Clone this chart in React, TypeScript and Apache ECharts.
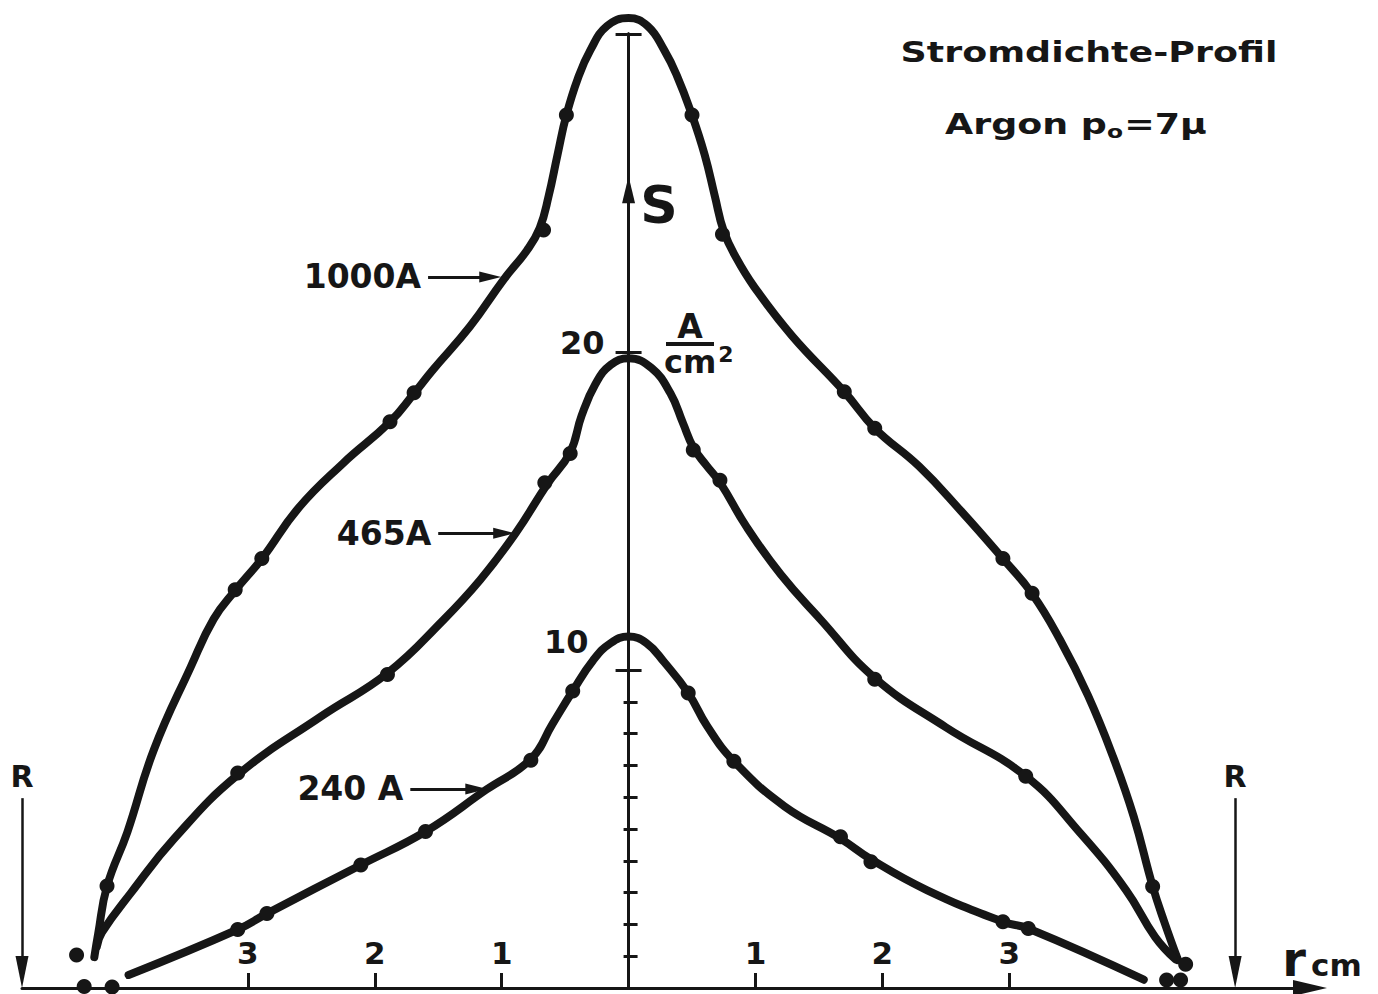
import { useEffect, useRef } from 'react';
import * as echarts from 'echarts';

const INK = '#161616';
const FONT = '"DejaVu Sans", "Liberation Sans", sans-serif';

// r in cm, S in A/cm^2
const R_WALL = 4.78;
const X_MIN = -4.78;
const X_MAX = 5.37;
const Y_MAX = 30;
const X_TICKS = [-3, -2, -1, 1, 2, 3];
const Y_MAJOR_TICKS = [10, 20, 30];
const Y_MINOR_TICKS = [1, 2, 3, 4, 5, 6, 7, 8, 9];
const Y_LABELS = [10, 20];
const Y_ARROW_S = 25.1;

const SERIES_NAMES = ['1000A', '465A', '240 A'];

// traced curves (r, S)
const CURVE_1000 = [
  [-4.21, 0.97], [-4.18, 1.7], [-4.11, 3.2], [-3.95, 4.9], [-3.74, 7.5], [-3.45, 10.1],
  [-3.27, 11.6], [-3.1, 12.5], [-2.89, 13.5], [-2.6, 15.1], [-2.25, 16.5], [-1.88, 17.8],
  [-1.69, 18.7], [-1.55, 19.4], [-1.25, 20.8], [-0.98, 22.3], [-0.8, 23.2], [-0.7, 23.9],
  [-0.63, 24.9], [-0.56, 26.2], [-0.49, 27.45], [-0.4, 28.6], [-0.3, 29.5], [-0.17, 30.25],
  [0, 30.5], [0.15, 30.25], [0.28, 29.5], [0.38, 28.7], [0.5, 27.45], [0.6, 26.2],
  [0.68, 24.9], [0.75, 23.8], [0.85, 22.95], [0.99, 22.05], [1.29, 20.5], [1.7, 18.75],
  [1.94, 17.6], [2.29, 16.4], [2.62, 15.0], [2.95, 13.5], [3.18, 12.4], [3.4, 10.95],
  [3.62, 9.2], [3.82, 7.25], [3.98, 5.4], [4.13, 3.2], [4.22, 2.1], [4.33, 0.88],
];
const CURVE_465 = [
  [-4.19, 1.3], [-4.15, 1.75], [-3.92, 3.0], [-3.58, 4.7], [-3.08, 6.7], [-2.42, 8.55],
  [-1.9, 9.9], [-1.46, 11.57], [-1.17, 12.83], [-0.89, 14.3], [-0.64, 15.85], [-0.46, 16.85],
  [-0.37, 18.0], [-0.26, 19.0], [-0.14, 19.6], [0, 19.8], [0.18, 19.5], [0.33, 18.7],
  [0.43, 17.75], [0.51, 17.0], [0.61, 16.45], [0.72, 15.9], [0.93, 14.5], [1.2, 13.0],
  [1.51, 11.6], [1.94, 9.75], [2.5, 8.2], [3.13, 6.66], [3.56, 4.87], [3.92, 3.08],
  [4.15, 1.6], [4.31, 0.9],
];
const CURVE_240 = [
  [-3.94, 0.41], [-3.08, 1.84], [-2.85, 2.34], [-2.11, 3.87], [-1.6, 4.92], [-1.12, 6.24],
  [-0.77, 7.2], [-0.6, 8.3], [-0.44, 9.34], [-0.28, 10.3], [-0.14, 10.85], [0, 11.05],
  [0.14, 10.85], [0.28, 10.25], [0.47, 9.28], [0.62, 8.23], [0.83, 7.13], [1.23, 5.71],
  [1.67, 4.7], [1.91, 4.05], [2.35, 3.08], [2.95, 2.08], [3.15, 1.87], [4.06, 0.26],
];

// measured points (r, S)
const DOTS_1000 = [
  [-4.35, 1.04], [-4.11, 3.21], [-3.1, 12.52], [-2.89, 13.51], [-1.88, 17.81], [-1.69, 18.72],
  [-0.67, 23.84], [-0.49, 27.45], [0.5, 27.45], [0.74, 23.7], [1.7, 18.75], [1.94, 17.6],
  [2.95, 13.51], [3.18, 12.41], [4.13, 3.19], [4.39, 0.75],
];
const DOTS_465 = [
  [-3.08, 6.76], [-1.9, 9.86], [-0.66, 15.89], [-0.46, 16.81], [0.51, 16.92], [0.72, 15.97],
  [1.94, 9.71], [3.13, 6.66],
];
const DOTS_240 = [
  [-4.29, 0.05], [-4.07, 0.03], [-3.08, 1.84], [-2.85, 2.34], [-2.11, 3.87], [-1.6, 4.92],
  [-0.77, 7.16], [-0.44, 9.34], [0.47, 9.28], [0.83, 7.13], [1.67, 4.76], [1.91, 3.97],
  [2.95, 2.08], [3.15, 1.87], [4.24, 0.25], [4.35, 0.25],
];

// label arrows (data coords: start, end)
const ARROW_1000 = [[-1.58, 22.36], [-1.09, 22.36]];
const ARROW_465 = [[-1.5, 14.3], [-0.98, 14.3]];
const ARROW_240 = [[-1.72, 6.26], [-1.2, 6.26]];
const R_ARROW_TOP = 5.97;
const R_ARROW_END = 0.5;

// layout
const W = 1378;
const H = 994;
const GRID_LEFT = 22;
const GRID_RIGHT = 68;
const GRID_TOP = 34;
const GRID_BOTTOM = 6;

export default function App() {
  const ref = useRef<HTMLDivElement>(null);

  useEffect(() => {
    if (!ref.current) return;
    const chart = echarts.init(ref.current, null, { renderer: 'svg' });
    const txt = { color: INK, fontFamily: FONT, fontWeight: 'bold' as const };
    const tickLine = { color: INK, width: 3 };
    const plotW = W - GRID_LEFT - GRID_RIGHT;
    const zeroPx = GRID_LEFT + ((0 - X_MIN) / (X_MAX - X_MIN)) * plotW;

    const curveSeries = (name: string, data: number[][], arrow: number[][]) => ({
      name,
      type: 'line',
      data,
      smooth: 0.45,
      symbol: 'none',
      showSymbol: false,
      clip: false,
      silent: true,
      z: 3,
      lineStyle: { color: INK, width: 8, cap: 'round', join: 'round' },
      markLine: {
        silent: true,
        symbol: ['none', 'triangle'],
        symbolSize: [11, 22],
        lineStyle: { color: INK, width: 3, type: 'solid' },
        label: { show: true, position: 'start', formatter: name, distance: 7, fontSize: 33, ...txt },
        emphasis: { disabled: true },
        data: [[{ coord: arrow[0] }, { coord: arrow[1] }]],
      },
    });

    const dotSeries = (name: string, data: number[][], extra: any = {}) => ({
      name: name + ' Messpunkte',
      type: 'scatter',
      data,
      symbol: 'circle',
      symbolSize: 15,
      itemStyle: { color: INK, opacity: 1 },
      clip: false,
      silent: true,
      z: 4,
      ...extra,
    });

    const yTickAxis = (values: number[], inside: boolean, length: number) => ({
      type: 'value',
      gridIndex: 1,
      min: 0,
      max: Y_MAX,
      interval: 10,
      position: 'left',
      splitLine: { show: false },
      axisLine: { show: true, onZero: false, lineStyle: { color: INK, width: 3 } },
      axisTick: { show: true, customValues: values, inside, length, lineStyle: tickLine },
      axisLabel: { show: false },
    });

    chart.setOption({
      animation: false,
      backgroundColor: '#ffffff',
      grid: [
        { left: GRID_LEFT, right: GRID_RIGHT, top: GRID_TOP, bottom: GRID_BOTTOM, outerBoundsMode: 'none', containLabel: false },
        { left: zeroPx, right: GRID_RIGHT, top: GRID_TOP, bottom: GRID_BOTTOM, outerBoundsMode: 'none', containLabel: false },
      ],
      xAxis: [
        {
          type: 'value',
          gridIndex: 0,
          min: X_MIN,
          max: X_MAX,
          splitLine: { show: false },
          axisLine: {
            show: true,
            onZero: false,
            lineStyle: { color: INK, width: 3 },
            symbol: ['none', 'triangle'],
            symbolSize: [16, 34],
          },
          axisTick: { show: true, customValues: X_TICKS, inside: true, length: 15, lineStyle: tickLine },
          axisLabel: {
            show: true,
            customValues: X_TICKS,
            inside: true,
            margin: 20,
            fontSize: 31,
            formatter: (v: number) => String(Math.abs(v)),
            ...txt,
          },
        },
        { type: 'value', gridIndex: 1, min: 0, max: 1, show: false },
      ],
      yAxis: [
        { type: 'value', gridIndex: 0, min: 0, max: Y_MAX, show: false },
        {
          ...yTickAxis(Y_MAJOR_TICKS, false, 13),
          axisLabel: {
            show: true,
            customValues: Y_LABELS,
            margin: 24,
            formatter: (v: number) => (v === 20 ? '{t|20}' : v === 10 ? '{u|10}' : ''),
            rich: {
              t: { fontSize: 32, ...txt, padding: [0, 0, 18, 0] },
              u: { fontSize: 32, ...txt, padding: [0, 16, 56, 0] },
            },
          },
        },
        yTickAxis(Y_MAJOR_TICKS, true, 13),
        yTickAxis(Y_MINOR_TICKS, false, 5),
        yTickAxis(Y_MINOR_TICKS, true, 9),
      ],
      series: [
        curveSeries(SERIES_NAMES[0], CURVE_1000, ARROW_1000),
        curveSeries(SERIES_NAMES[1], CURVE_465, ARROW_465),
        curveSeries(SERIES_NAMES[2], CURVE_240, ARROW_240),
        dotSeries(SERIES_NAMES[0], DOTS_1000),
        dotSeries(SERIES_NAMES[1], DOTS_465),
        dotSeries(SERIES_NAMES[2], DOTS_240, {
          markLine: {
            silent: true,
            symbol: ['none', 'triangle'],
            symbolSize: [13, 32],
            lineStyle: { color: INK, width: 2.5, type: 'solid' },
            label: { show: true, position: 'start', formatter: 'R', distance: 7, fontSize: 30, ...txt },
            emphasis: { disabled: true },
            data: [
              [{ coord: [-R_WALL, R_ARROW_TOP] }, { coord: [-R_WALL, R_ARROW_END] }],
              [{ coord: [R_WALL, R_ARROW_TOP] }, { coord: [R_WALL, R_ARROW_END] }],
            ],
          },
        }),
        {
          name: 'S-Achse',
          type: 'scatter',
          data: [[0, Y_ARROW_S]],
          symbol: 'triangle',
          symbolSize: [13, 27],
          itemStyle: { color: INK, opacity: 1 },
          silent: true,
          z: 5,
        },
      ],
      graphic: [
        {
          type: 'text', x: 1089, y: 53, scaleX: 1.3,
          style: { text: 'Stromdichte-Profil', fill: INK, font: `bold 28px ${FONT}`, align: 'center', verticalAlign: 'middle' },
        },
        {
          type: 'text', x: 1076, y: 125, scaleX: 1.3,
          style: {
            text: '{n|Argon p}{s|o}{n|=7μ}',
            align: 'center',
            verticalAlign: 'middle',
            rich: {
              n: { fontSize: 28, fontWeight: 'bold', fontFamily: FONT, fill: INK },
              s: { fontSize: 18, fontWeight: 'bold', fontFamily: FONT, fill: INK, padding: [14, 1, 0, 0] },
            },
          },
        },
        {
          type: 'text', x: 659, y: 205,
          style: { text: 'S', fill: INK, font: `bold 52px ${FONT}`, align: 'center', verticalAlign: 'middle' },
        },
        {
          type: 'text', x: 690, y: 326,
          style: { text: 'A', fill: INK, font: `bold 33px ${FONT}`, align: 'center', verticalAlign: 'middle' },
        },
        {
          type: 'line', shape: { x1: 666, y1: 344, x2: 714, y2: 344 },
          style: { stroke: INK, lineWidth: 4 },
        },
        {
          type: 'text', x: 664, y: 362,
          style: {
            text: '{c|cm}{s|2}',
            align: 'left',
            verticalAlign: 'middle',
            rich: {
              c: { fontSize: 32, fontWeight: 'bold', fontFamily: FONT, fill: INK },
              s: { fontSize: 22, fontWeight: 'bold', fontFamily: FONT, fill: INK, padding: [0, 0, 16, 2] },
            },
          },
        },
        {
          type: 'text', x: 1294, y: 959,
          style: { text: 'r', fill: INK, font: `bold 48px ${FONT}`, align: 'center', verticalAlign: 'middle' },
        },
        {
          type: 'text', x: 1311, y: 965,
          style: { text: 'cm', fill: INK, font: `bold 31px ${FONT}`, align: 'left', verticalAlign: 'middle' },
        },
      ],
    });

    return () => chart.dispose();
  }, []);

  return (
    <div
      ref={ref}
      style={{ position: 'fixed', left: 0, top: 0, width: W, height: H, background: '#fff' }}
    />
  );
}
